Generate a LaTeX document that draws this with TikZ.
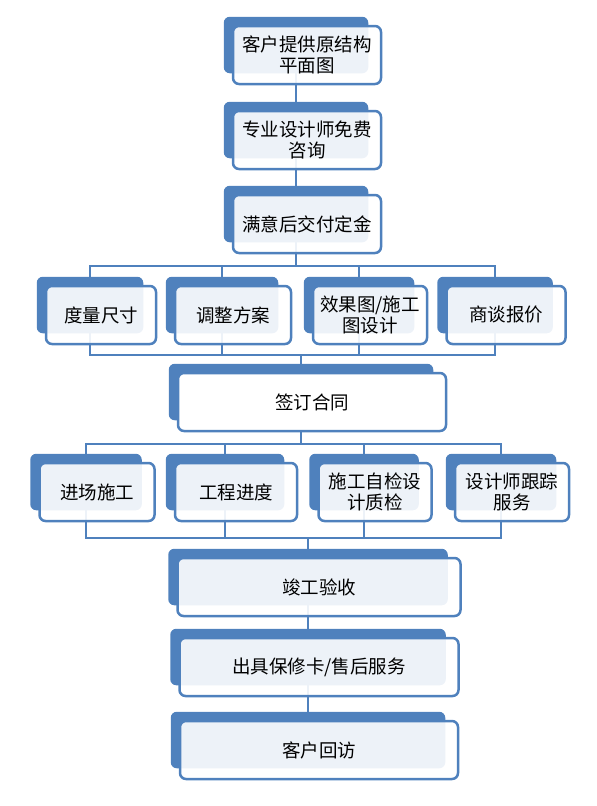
\documentclass[tikz,border=0pt]{standalone}
\usepackage{fontspec}
\newfontfamily\cjk{Noto Sans CJK SC}
\usetikzlibrary{positioning, fit, backgrounds}
\pgfdeclarelayer{links}
\pgfsetlayers{links,background,main}
\definecolor{boxblue}{HTML}{4F81BD}

\begin{document}
\begin{tikzpicture}[
    x=1pt, y=-1pt,
    every node/.style={font=\cjk\fontsize{18.5}{21.5}\selectfont},
    front/.style={draw=boxblue, line width=2.5pt, rounded corners=6pt, fill=white, fill opacity=0.9, text opacity=1, align=center, inner sep=0pt, minimum height=58pt},
    backbox/.style={fill=boxblue, rounded corners=6pt, inner sep=0pt},
    link/.style={draw=boxblue, line width=2.6pt}
]
\useasboundingbox (0,0) rectangle (597,806);

% main steps
\node (s1) [front, minimum width=148pt] at (307,55) {客户提供原结构\\平面图};
\node (s2) [front, minimum width=148pt] at (307,140) {专业设计师免费\\咨询};
\node (s3) [front, minimum width=148pt] at (307,224) {满意后交付定金};

% first row
\node (r1a) [front, minimum width=110pt] at (101,315) {度量尺寸};
\node (r1b) [front, minimum width=116pt] at (233,315) {调整方案};
\node (r1c) [front, minimum width=114pt] at (370,315) {效果图/施工\\图设计};
\node (r1d) [front, minimum width=119pt] at (506,315) {商谈报价};

\node (s4) [front, fill opacity=1, minimum width=268pt] at (312,402) {签订合同};

% second row
\node (r2a) [front, minimum width=115pt] at (97,492) {进场施工};
\node (r2b) [front, minimum width=122pt] at (236,492) {工程进度};
\node (r2c) [front, minimum width=113pt] at (375,492) {施工自检设\\计质检};
\node (r2d) [front, minimum width=114pt] at (512,492) {设计师跟踪\\服务};

\node (s5) [front, minimum width=283pt] at (319,587) {竣工验收};
\node (s6) [front, minimum width=279pt] at (319,667) {出具保修卡/售后服务};
\node (s7) [front, minimum width=278pt] at (319,750) {客户回访};

% shadow boxes
\begin{pgfonlayer}{background}
\foreach \n in {s1,s2,s3,r1a,r1b,r1c,r1d,s4,r2a,r2b,r2c,r2d,s5,s6,s7}
    \node (\n-b) [backbox, fit={([shift={(-8,-8)}]\n.north west) ([shift={(-14,-12)}]\n.south east)}] {};
\end{pgfonlayer}

% connectors
\begin{pgfonlayer}{links}
\coordinate (bus1) at (s3-b |- 0,266);
\coordinate (bus2) at (s4-b |- 0,355);
\coordinate (bus3) at (s4-b |- 0,444);
\coordinate (bus4) at (s5-b |- 0,538);
\draw [link] (s1-b) -- (s2-b);
\draw [link] (s2-b) -- (s3-b);
\draw [link] (s3-b) -- (bus1);
\foreach \n in {r1a,r1b,r1c,r1d} {
    \draw [link] (bus1) -| (\n-b);
    \draw [link] (\n-b) |- (bus2);
}
\draw [link] (bus2) -- (bus3);
\foreach \n in {r2a,r2b,r2c,r2d} {
    \draw [link] (bus3) -| (\n-b);
    \draw [link] (\n-b) |- (bus4);
}
\draw [link] (bus4) -- (s5-b);
\draw [link] (s5-b) -- (s6-b);
\draw [link] (s6-b) -- (s7-b);
\end{pgfonlayer}

\end{tikzpicture}
\end{document}
